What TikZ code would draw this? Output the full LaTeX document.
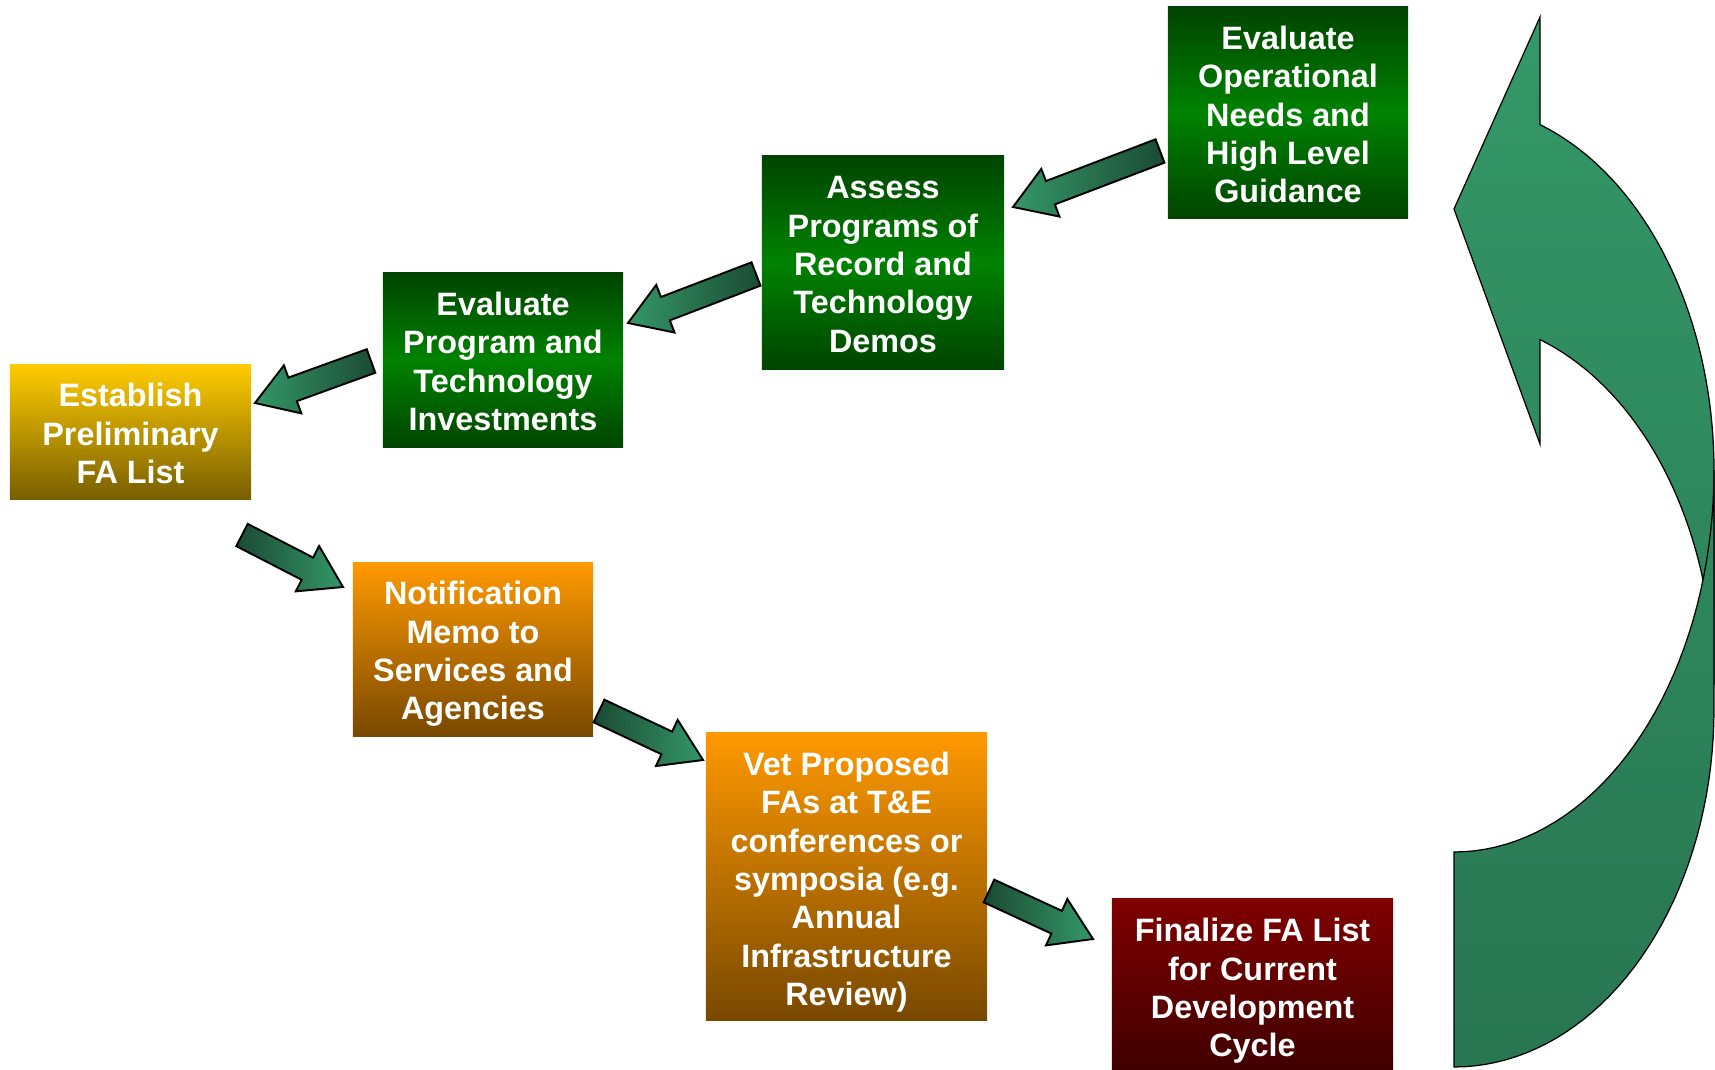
\documentclass[tikz,border=0pt]{standalone}
\usepackage{fontspec}
\setmainfont{Liberation Sans}
\usetikzlibrary{calc}
\definecolor{gDark}{RGB}{0,68,0}
\definecolor{gMid}{RGB}{0,130,0}
\definecolor{goldTop}{RGB}{255,204,0}
\definecolor{goldBot}{RGB}{120,94,0}
\definecolor{orTop}{RGB}{255,153,0}
\definecolor{orBot}{RGB}{120,72,0}
\definecolor{redTop}{RGB}{128,0,0}
\definecolor{redBot}{RGB}{64,0,0}
\definecolor{arrLight}{RGB}{52,152,104}
\definecolor{arrDark}{RGB}{27,74,52}
\definecolor{cvTop}{RGB}{52,152,104}
\definecolor{cvB}{RGB}{44,130,90}
\definecolor{cvA}{RGB}{47,137,94}
\definecolor{cvBot}{RGB}{40,118,82}
\newcommand{\fatarrow}[3]{%
  \path[#3] ($(#1)!1.25mm!90:(#2)$) -- ($(#2)!4mm!(#1)!1.25mm!-90:(#1)$)
    -- ($(#2)!4mm!(#1)!2.55mm!-90:(#1)$) -- (#2)
    -- ($(#2)!4mm!(#1)!2.55mm!90:(#1)$) -- ($(#2)!4mm!(#1)!1.25mm!90:(#1)$)
    -- ($(#1)!1.25mm!-90:(#2)$) -- cycle;}
\begin{document}
\begin{tikzpicture}[x=0.01cm,y=-0.01cm,
  box/.style={rectangle, inner sep=0pt},
  txt/.style={inner sep=0pt, align=center, text=white,
    font=\bfseries\fontsize{9.2}{10.9}\selectfont},
  greenbox/.style={box, top color=gDark, bottom color=gDark, middle color=gMid},
  goldbox/.style={box, top color=goldTop, bottom color=goldBot},
  orangebox/.style={box, top color=orTop, bottom color=orBot},
  redbox/.style={box, top color=redTop, bottom color=redBot},
  arrleft/.style={shade, left color=arrLight, right color=arrDark, draw=black, line width=0.55pt, line join=miter},
  arrright/.style={shade, left color=arrDark, right color=arrLight, draw=black, line width=0.55pt, line join=miter},
  curve/.style={shade, draw=black, line width=0.35pt}]
\useasboundingbox (0,0) rectangle (1715,1070);

% curved return arrow (upper band with head)
\path[curve, top color=cvTop, bottom color=cvB]
  (1454,209) -- (1540,17) -- (1540,124)
  -- plot[domain=70.7:0, variable=\t, samples=40] ({1454+260*cos(\t)}, {470-366*sin(\t)})
  -- (1714,685)
  -- plot[domain=0:70.7, variable=\t, samples=40] ({1454+260*cos(\t)}, {685-366*sin(\t)})
  -- (1540,444) -- cycle;
% lower band
\path[curve, top color=cvA, bottom color=cvBot]
  (1454,852)
  -- plot[domain=-90:0, variable=\t, samples=40] ({1454+260*cos(\t)}, {470-382*sin(\t)})
  -- (1714,709)
  -- plot[domain=0:-90, variable=\t, samples=40] ({1454+260*cos(\t)}, {709-358*sin(\t)})
  -- cycle;

% boxes
\node[greenbox, minimum width=2.40cm, minimum height=2.11cm] (eon) at (1288,112.5) {};
\node[greenbox, minimum width=2.42cm, minimum height=2.13cm] (apr) at (883,262.5) {};
\node[greenbox, minimum width=2.40cm, minimum height=1.74cm] (ept) at (503,360) {};
\node[goldbox, minimum width=2.41cm, minimum height=1.34cm] (epl) at (130.5,432) {};
\node[orangebox, minimum width=2.40cm, minimum height=1.73cm] (nm) at (473,649.5) {};
\node[orangebox, minimum width=2.81cm, minimum height=2.87cm] (vet) at (846.5,876.5) {};
\node[redbox, minimum width=2.81cm, minimum height=1.71cm] (fin) at (1252.5,984.5) {};

% box texts
\node[txt] (eon-t) at ($(eon)+(0,2)$) {Evaluate\\Operational\\Needs and\\High Level\\Guidance};
\node[txt] (apr-t) at ($(apr)+(0,2)$) {Assess\\Programs of\\Record and\\Technology\\Demos};
\node[txt] (ept-t) at ($(ept)+(0,1.5)$) {Evaluate\\Program and\\Technology\\Investments};
\node[txt] (epl-t) at ($(epl)+(0,1.5)$) {Establish\\Preliminary\\FA List};
\node[txt] (nm-t) at ($(nm)+(0,4.5)$) {Notification\\Memo to\\Services and\\Agencies};
\node[txt] (vet-t) at ($(vet)+(0,5.5)$) {Vet Proposed\\FAs at T\&E\\conferences or\\symposia (e.g.\\Annual\\Infrastructure\\Review)};
\node[txt] (fin-t) at ($(fin)+(0,6.5)$) {Finalize FA List\\for Current\\Development\\Cycle};

% arrow end points
\coordinate (a1s) at (1160,151); \coordinate (a1e) at (1013,207);
\coordinate (a2s) at (756,274);  \coordinate (a2e) at (628,323);
\coordinate (a3s) at (371,361);  \coordinate (a3e) at (255,403);
\coordinate (a4s) at (242,535);  \coordinate (a4e) at (343,587);
\coordinate (a5s) at (599,711);  \coordinate (a5e) at (703,760);
\coordinate (a6s) at (989,891);  \coordinate (a6e) at (1093,939);

\fatarrow{a1s}{a1e}{arrleft}
\fatarrow{a2s}{a2e}{arrleft}
\fatarrow{a3s}{a3e}{arrleft}
\fatarrow{a4s}{a4e}{arrright}
\fatarrow{a5s}{a5e}{arrright}
\fatarrow{a6s}{a6e}{arrright}
\end{tikzpicture}
\end{document}
